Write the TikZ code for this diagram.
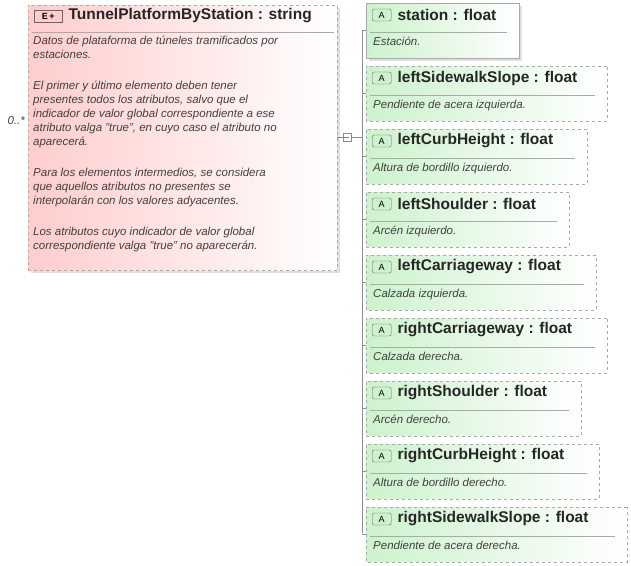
\documentclass[tikz,border=0pt]{standalone}
\usepackage{fontspec}
\setmainfont{Liberation Sans}
\usetikzlibrary{shapes.misc,positioning}
\definecolor{elempink}{RGB}{255,205,205}
\definecolor{attrgreen}{RGB}{205,242,205}
\definecolor{framegray}{RGB}{170,170,170}
\tikzset{
  elembox/.style={draw=framegray,dashed,left color=elempink,right color=white,shading angle=90,inner sep=0pt,anchor=north west},
  attrbox/.style={chamfered rectangle,chamfered rectangle corners={north west,south west},chamfered rectangle xsep=4pt,chamfered rectangle ysep=4pt,draw=framegray,left color=attrgreen,right color=white,inner sep=0pt,anchor=north west,minimum height=55pt},
  optional/.style={dashed},
  headtext/.style={font=\bfseries\fontsize{15.5}{18}\selectfont,text=black!85,anchor=west,inner sep=0pt},
  desctext/.style={font=\itshape\fontsize{11.5}{14}\selectfont,text=black!75,anchor=north west,inner sep=0pt,align=left},
  iconA/.style={draw=black!60,fill=attrgreen,rounded corners=2pt,font=\fontsize{9}{9}\selectfont,inner sep=1pt,minimum width=19pt,minimum height=12pt,anchor=west},
  link/.style={draw=black!45,line width=0.5pt}
}
\begin{document}
\begin{tikzpicture}[x=1pt,y=-1pt]
\useasboundingbox (0,0) rectangle (631,565);
% main element
\fill[black!12] (31,8) rectangle (340,273);
\node[elembox,minimum width=309pt,minimum height=265pt] (main) at (28,5) {};
\node[draw=black!60,fill=elempink,inner sep=1pt,minimum width=28pt,minimum height=12pt,font=\bfseries\fontsize{9}{9}\selectfont,anchor=west] (icon) at (34,16) {E\,+};
\node[headtext,right=6pt of icon] (mainhead) {TunnelPlatformByStation : string};
\draw[framegray] (32,32) -- (334,32);
\node[desctext] (maindesc) at (33,36) {Datos de plataforma de túneles tramificados por\\estaciones.\\[17pt]El primer y último elemento deben tener\\presentes todos los atributos, salvo que el\\indicador de valor global correspondiente a ese\\atributo valga "true", en cuyo caso el atributo no\\aparecerá.\\[17pt]Para los elementos intermedios, se considera\\que aquellos atributos no presentes se\\interpolarán con los valores adyacentes.\\[17pt]Los atributos cuyo indicador de valor global\\correspondiente valga "true" no aparecerán.};
\node[font=\itshape\fontsize{11.5}{11.5}\selectfont,text=black!75,anchor=east,inner sep=0pt] (mult) at (25,121) {0..*};
% connector
\node[draw=black!45,fill=white,minimum size=8pt,inner sep=0pt] (fork) at (347,137) {};
\draw[black!45] (fork.west) ++(1.5pt,0) -- ++(5pt,0);
\draw[link] (337,137) -- (fork.west);
\coordinate (trunk) at (362,137);
\draw[link] (fork.east) -- (trunk);
\draw[link] (362,30) -- (362,533);
% attributes
\foreach \n/\w/\d [count=\i from 0] in {
  station/153/Estación.,
  leftSidewalkSlope/241/Pendiente de acera izquierda.,
  leftCurbHeight/221/Altura de bordillo izquierdo.,
  leftShoulder/203/Arcén izquierdo.,
  leftCarriageway/230/Calzada izquierda.,
  rightCarriageway/241/Calzada derecha.,
  rightShoulder/215/Arcén derecho.,
  rightCurbHeight/233/Altura de bordillo derecho.,
  rightSidewalkSlope/261/Pendiente de acera derecha.}{
  \pgfmathsetmacro{\ytop}{3+63*\i}
  \ifnum\i=0
    \fill[black!12] (369,\ytop+3) rectangle ++(\w,55);
    \node[attrbox,minimum width=\w pt] (\n) at (366,\ytop) {};
  \else
    \node[attrbox,optional,minimum width=\w pt] (\n) at (366,\ytop) {};
  \fi
  \node[iconA] (\n-icon) at (372,\ytop+12) {A};
  \node[headtext,right=6pt of \n-icon] (\n-head) {\n\ : float};
  \draw[framegray] (370,\ytop+29) -- (366+\w-12,\ytop+29);
  \node[desctext] (\n-desc) at (373,\ytop+34) {\d};
  \draw[link] (362,\ytop+27) -- (\n.west |- 0,\ytop+27);
}
\end{tikzpicture}
\end{document}
